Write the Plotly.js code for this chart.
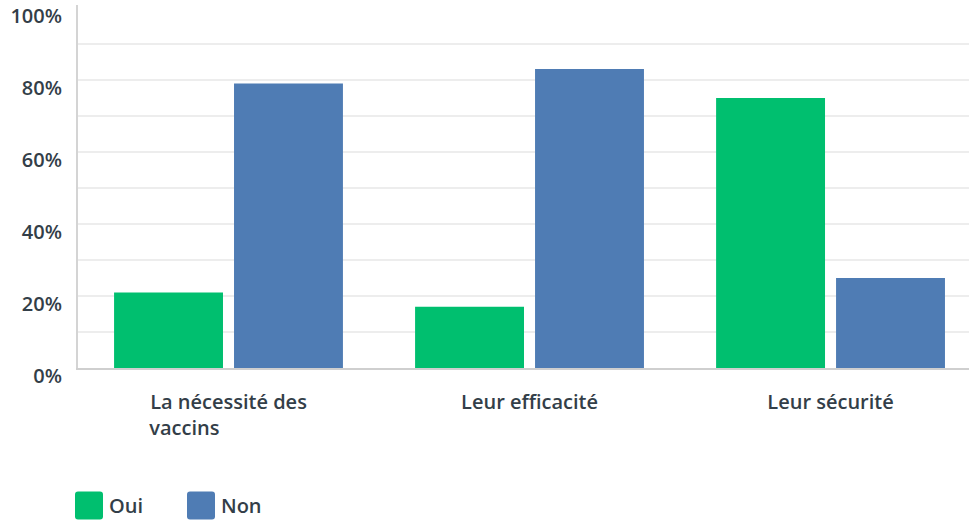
<!DOCTYPE html>
<html>
<head>
<meta charset="utf-8">
<script src="https://cdn.plot.ly/plotly-3.0.1.min.js"></script>
<style>
  html, body { margin: 0; padding: 0; background: #fff; }
  #chart { width: 969px; height: 522px; }
</style>
</head>
<body>
<div id="chart"></div>
<script>
var CHART = document.getElementById('chart');

var categories = ['La nécessité des vaccins', 'Leur efficacité', 'Leur sécurité'];
var tickLabels = ['La nécessité des<br>vaccins' + '\u00a0'.repeat(17), 'Leur efficacité', 'Leur sécurité'];
var oui = [21, 17, 75];
var non = [79, 83, 25];
var yTicks = [0, 20, 40, 60, 80, 100];
var yTickText = ['0%', '20%', '40%', '60%', '80%', '100%'];
var yGrid = [10, 20, 30, 40, 50, 60, 70, 80, 90];

var textFont = {family: 'Open Sans, sans-serif', size: 20, color: '#333e48', weight: 600};

var data = [
    {
        x: categories,
        y: oui,
        name: 'Oui',
        type: 'bar',
        marker: {color: '#00bf6f'},
        hoverinfo: 'none'
    },
    {
        x: categories,
        y: non,
        name: 'Non',
        type: 'bar',
        marker: {color: '#4f7cb4'},
        hoverinfo: 'none'
    }
];

var layout = {
    width: 969,
    height: 522,
    margin: {l: 78, r: 0, t: 5, b: 154},
    paper_bgcolor: '#fff',
    plot_bgcolor: '#fff',
    barmode: 'group',
    bargap: 0.203,
    bargroupgap: 0.092,
    font: textFont,
    showlegend: true,
    legend: {
        orientation: 'h',
        xref: 'container',
        yref: 'container',
        x: 69 / 969,
        xanchor: 'left',
        y: 1 - 505.5 / 522,
        yanchor: 'middle',
        font: {family: 'Open Sans, sans-serif', size: 20, color: '#333e48', weight: 600},
        entrywidth: 67,
        entrywidthmode: 'pixels'
    },
    xaxis: {
        type: 'category',
        range: [-0.5, 2.46],
        tickvals: categories,
        ticktext: tickLabels,
        showline: true,
        linecolor: '#cfcfcf',
        linewidth: 2,
        showgrid: false,
        zeroline: false,
        ticks: '',
        ticklabelstandoff: 15,
        tickfont: textFont,
        fixedrange: true
    },
    yaxis: {
        range: [0, 100.8],
        tickvals: yTicks,
        ticktext: yTickText,
        showgrid: false,
        minor: {tickvals: yGrid, showgrid: true, gridcolor: '#ededed', gridwidth: 2, ticks: ''},
        showline: true,
        linecolor: '#d4d4d4',
        linewidth: 2,
        zeroline: false,
        ticks: '',
        ticklabelshift: 8,
        ticklabelstandoff: 10,
        tickfont: textFont,
        fixedrange: true
    }
};

var config = {displayModeBar: false, staticPlot: true};

Plotly.newPlot(CHART, data, layout, config).then(function () {
    // bigger rounded legend keys
    var key = 'M14,11A3,3 0 0 1 11,14H-11A3,3 0 0 1 -14,11V-11A3,3 0 0 1 -11,-14H11A3,3 0 0 1 14,-11Z';
    CHART.querySelectorAll('.legendpoints path').forEach(function (p) {
        p.setAttribute('d', key);
    });
});
</script>
</body>
</html>
